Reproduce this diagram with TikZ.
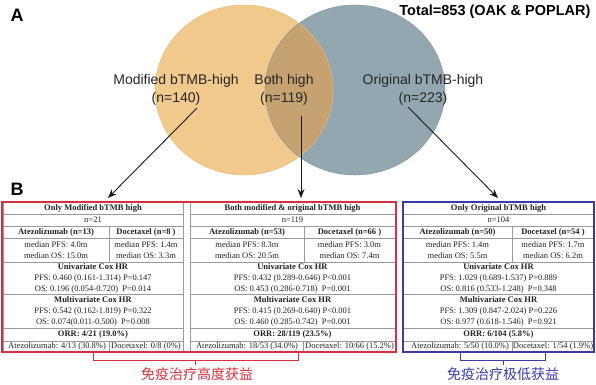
\documentclass[tikz,border=0pt]{standalone}
\usepackage{fontspec}
\setmainfont{Liberation Serif}
\newfontfamily\arialf{Liberation Sans}
\newfontfamily\cjkf{Noto Sans CJK SC}
\usetikzlibrary{arrows.meta}
\definecolor{orangeC}{HTML}{F2C98D}
\definecolor{orangeE}{HTML}{E9BC7C}
\definecolor{blueC}{HTML}{93A7B0}
\definecolor{blueE}{HTML}{8398A2}
\definecolor{overC}{HTML}{C6A271}
\definecolor{redC}{HTML}{D5303E}
\definecolor{blueF}{HTML}{3A3AA8}
\definecolor{gridC}{HTML}{9A9A9A}
\definecolor{txtC}{HTML}{222222}
\newcommand\mytable[4]{%
  \draw[gridline] (#1,202) rectangle (#2,352);
  \foreach \yy in {214,226,238,262,294,328,341} \draw[gridline] (#1,\yy) -- (#2,\yy);
  \draw[gridline] (#3,226) -- (#3,262);
  \draw[gridline] (#4,341) -- (#4,352);
}
\begin{document}
\begin{tikzpicture}[x=1pt,y=-1pt,
  gridline/.style={draw=gridC,line width=0.7pt},
  cell/.style={font=\fontsize{8.5}{11}\selectfont,text=txtC,inner sep=0pt,align=center},
  hd/.style={cell,font=\fontsize{8.5}{11}\selectfont\bfseries},
  venn/.style={font=\arialf\fontsize{14}{18}\selectfont,text=black!85,inner sep=0pt,align=center},
  arr/.style={draw=black!90,line width=0.9pt,-{Stealth[length=9pt,width=7pt]}},
  frameR/.style={draw=redC,line width=1.2pt},
  frameB/.style={draw=blueF,line width=1.2pt},
  brR/.style={draw=redC,line width=1pt},
  brB/.style={draw=blueF,line width=1pt}]
\useasboundingbox (0,0) rectangle (596,384);
% Venn
\fill[orangeC] (244,90) ellipse [x radius=89, y radius=85];
\fill[blueC] (355,90) ellipse [x radius=90, y radius=85];
\begin{scope}
  \clip (244,90) ellipse [x radius=89, y radius=85];
  \fill[overC] (355,90) ellipse [x radius=90, y radius=85];
\end{scope}
\draw[orangeE,line width=0.5pt] (244,90) ellipse [x radius=89, y radius=85];
\draw[blueE,line width=0.5pt] (355,90) ellipse [x radius=90, y radius=85];
\node[font=\arialf\bfseries\fontsize{18}{20}\selectfont] (labA) at (17,15) {A};
\node[font=\arialf\bfseries\fontsize{18}{20}\selectfont] (labB) at (17,189) {B};
\node[anchor=east,font=\arialf\bfseries\fontsize{14.5}{17}\selectfont] (total) at (594,12) {Total=853 (OAK \& POPLAR)};
\node[venn] (modT) at (176,90) {Modified bTMB-high\\(n=140)};
\node[venn] (bothT) at (284,90) {Both high\\(n=119)};
\node[venn] (origT) at (423,90) {Original bTMB-high\\(n=223)};
\coordinate (s1) at (197,108);
\coordinate (s2) at (301,116);
\coordinate (s3) at (408,107);
\coordinate (e1) at (108,198);
\coordinate (e2) at (301,198);
\coordinate (e3) at (498,198);
\draw[arr] (s1) -- (e1);
\draw[arr] (s2) -- (e2);
\draw[arr] (s3) -- (e3);
% tables grids
\mytable{3}{183}{109}{109}
\mytable{190}{395}{304}{303}
\mytable{403}{594}{512}{512}
% table 1
\node[hd] (t1h) at (93,208) {Only Modified bTMB high};
\node[cell] (t1n) at (93,220) {n=21};
\node[hd] (t1a) at (56,232) {Atezolizumab (n=13)};
\node[hd] (t1d) at (146,232) {Docetaxel (n=8 )};
\node[cell] (t1am) at (56,250) {median PFS: 4.0m\\median OS: 15.0m};
\node[cell] (t1dm) at (146,250) {median PFS: 1.4m\\median OS: 3.3m};
\node[cell] (t1u) at (93,278) {\textbf{Univariate Cox HR}\\PFS: 0.460 (0.161-1.314) P=0.147\\OS: 0.196 (0.054-0.720)\ \ P=0.014};
\node[cell] (t1m) at (93,311) {\textbf{Multivariate Cox HR}\\PFS: 0.542 (0.162-1.819) P=0.322\\OS: 0.074(0.011-0.500)\ \ P=0.008};
\node[hd] (t1o) at (93,334.5) {ORR: 4/21 (19.0\%)};
\node[cell] (t1x) at (57,346.5) {Atezolizumab: 4/13 (30.8\%)};
\node[cell] (t1y) at (146,346.5) {Docetaxel: 0/8 (0\%)};
% table 2
\node[hd] (t2h) at (292.5,208) {Both modified \& original bTMB high};
\node[cell] (t2n) at (292.5,220) {n=119};
\node[hd] (t2a) at (247,232) {Atezolizumab (n=53)};
\node[hd] (t2d) at (349.5,232) {Docetaxel (n=66 )};
\node[cell] (t2am) at (247,250) {median PFS: 8.3m\\median OS: 20.5m};
\node[cell] (t2dm) at (349.5,250) {median PFS: 3.0m\\median OS: 7.4m};
\node[cell] (t2u) at (292.5,278) {\textbf{Univariate Cox HR}\\PFS: 0.432 (0.289-0.646) P<0.001\\OS: 0.453 (0.286-0.718)\ \ P=0.001};
\node[cell] (t2m) at (292.5,311) {\textbf{Multivariate Cox HR}\\PFS: 0.415 (0.269-0.640) P<0.001\\OS: 0.460 (0.285-0.742)\ \ P=0.001};
\node[hd] (t2o) at (292.5,334.5) {ORR: 28/119 (23.5\%)};
\node[cell] (t2x) at (247,346.5) {Atezolizumab: 18/53 (34.0\%)};
\node[cell] (t2y) at (349.5,346.5) {Docetaxel: 10/66 (15.2\%)};
% table 3
\node[hd] (t3h) at (498.5,208) {Only Original bTMB high};
\node[cell] (t3n) at (498.5,220) {n=104};
\node[hd] (t3a) at (457.5,232) {Atezolizumab (n=50)};
\node[hd] (t3d) at (553,232) {Docetaxel (n=54 )};
\node[cell] (t3am) at (457.5,250) {median PFS: 1.4m\\median OS: 5.5m};
\node[cell] (t3dm) at (553,250) {median PFS: 1.7m\\median OS: 6.2m};
\node[cell] (t3u) at (498.5,278) {\textbf{Univariate Cox HR}\\PFS: 1.029 (0.689-1.537) P=0.889\\OS: 0.816 (0.533-1.248)\ \ P=0.348};
\node[cell] (t3m) at (498.5,311) {\textbf{Multivariate Cox HR}\\PFS: 1.309 (0.847-2.024) P=0.226\\OS: 0.977 (0.618-1.546)\ \ P=0.921};
\node[hd] (t3o) at (498.5,334.5) {ORR: 6/104 (5.8\%)};
\node[cell] (t3x) at (460,346.5) {Atezolizumab: 5/50 (10.0\%)};
\node[cell] (t3y) at (553,346.5) {Docetaxel: 1/54 (1.9\%)};
% frames
\draw[frameR] (2,202) rectangle (396,352);
\draw[frameB] (403,202) rectangle (594,352);
% brackets
\draw[brR] (93,352) -- (93,360) -- (298,360) -- (298,352);
\draw[brR] (195,360) -- (195,365);
\draw[brB] (460,352) -- (460,360) -- (545,360) -- (545,352);
\draw[brB] (503,360) -- (503,365);
\node[font=\cjkf\fontsize{14}{16}\selectfont,text=redC,inner sep=0pt] (gainH) at (197,374) {免疫治疗高度获益};
\node[font=\cjkf\fontsize{14}{16}\selectfont,text=blueF,inner sep=0pt] (gainL) at (503,374) {免疫治疗极低获益};
\end{tikzpicture}
\end{document}
